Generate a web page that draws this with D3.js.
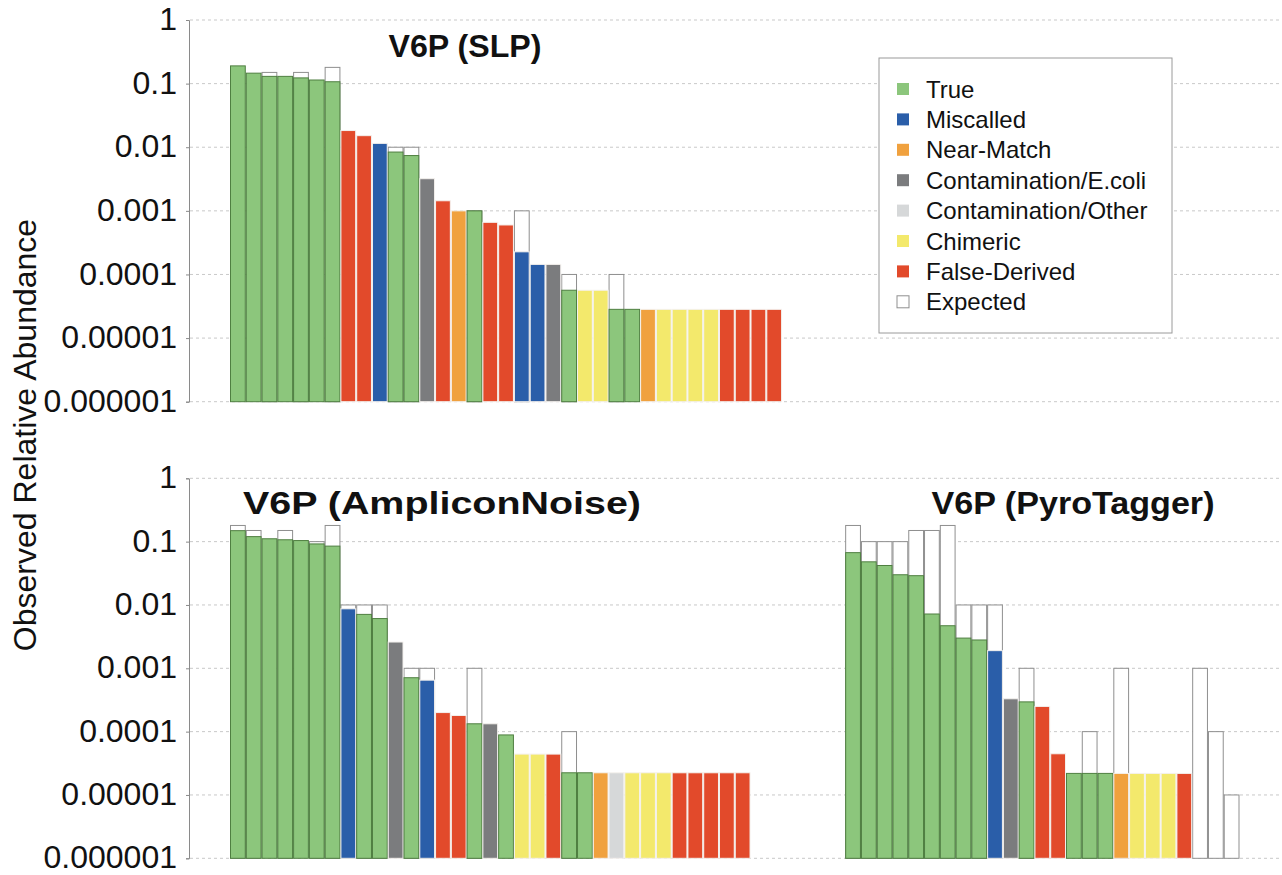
<!DOCTYPE html>
<html lang="en">
<head>
<meta charset="UTF-8">
<title>V6P relative abundance</title>
<style>
  body { margin: 0; background: #fff; }
  svg text { font-family: "Liberation Sans", Arial, Helvetica, sans-serif; }
</style>
</head>
<body>
<script src="https://d3js.org/d3.v7.min.js"></script>
<div id="chart"></div>
<script>
// legend categories
var catKeys   = ["T", "M", "N", "E", "O", "C", "F"];
var catNames  = ["True", "Miscalled", "Near-Match", "Contamination/E.coli", "Contamination/Other", "Chimeric", "False-Derived"];
var catColors = ["#8cc67c", "#2a5ea9", "#f0a13e", "#7b7c7e", "#d6d8d9", "#f3e96c", "#e24a2b"];
var yTicks = [1, 0.1, 0.01, 0.001, 0.0001, 0.00001, 0.000001];
var yTickLabels = ["1", "0.1", "0.01", "0.001", "0.0001", "0.00001", "0.000001"];

// V6P (SLP)
var slpCats = ["T","T","T","T","T","T","T","F","F","M","T","T","E","F","N","T","F","F","M","M","E","T","C","C","T","T","N","C","C","C","C","F","F","F","F"];
var slpObs  = [0.19,0.146,0.13,0.13,0.123,0.114,0.107,0.0183,0.0152,0.0115,0.0084,0.0074,0.0032,0.00144,0.001,0.001,0.00066,0.0006,0.000227,0.000144,0.000144,0.0000565,0.0000565,0.0000565,0.0000283,0.0000283,0.0000283,0.0000283,0.0000283,0.0000283,0.0000283,0.0000283,0.0000283,0.0000283,0.0000283];
var slpExp  = [null,null,0.15,null,0.15,null,0.18,null,null,null,0.01,0.01,null,null,null,0.001,null,null,0.001,null,null,0.0001,null,null,0.0001,null,null,null,null,null,null,null,null,null,null];

// V6P (AmpliconNoise)
var anCats = ["T","T","T","T","T","T","T","M","T","T","E","T","M","F","F","T","E","T","C","C","F","T","T","N","O","C","C","C","F","F","F","F","F"];
var anObs  = [0.149,0.12,0.111,0.107,0.104,0.092,0.085,0.0087,0.0071,0.0061,0.0026,0.00071,0.00065,0.0002,0.00018,0.000133,0.000133,0.0000887,0.0000442,0.0000442,0.0000442,0.0000224,0.0000224,0.0000224,0.0000224,0.0000224,0.0000224,0.0000224,0.0000224,0.0000224,0.0000224,0.0000224,0.0000224];
var anExp  = [0.18,0.15,null,0.15,null,0.1,0.18,0.01,0.01,0.01,null,0.001,0.001,null,null,0.001,null,null,null,null,null,0.0001,null,null,null,null,null,null,null,null,null,null,null];

// V6P (PyroTagger), X = expected only
var ptCats = ["T","T","T","T","T","T","T","T","T","M","E","T","F","F","T","T","T","N","C","C","C","F","X","X","X"];
var ptObs  = [0.067,0.048,0.042,0.030,0.029,0.0072,0.0047,0.003,0.0028,0.0019,0.00033,0.000295,0.00025,0.0000447,0.0000219,0.0000219,0.0000219,0.0000219,0.0000219,0.0000219,0.0000219,0.0000219,null,null,null];
var ptExp  = [0.18,0.1,0.1,0.1,0.15,0.15,0.18,0.01,0.01,0.01,null,0.001,null,null,null,0.0001,null,0.001,null,null,null,null,0.001,0.0001,0.00001];

var W = 1282, H = 875;
var color = d3.scaleOrdinal().domain(catKeys).range(catColors);

var svg = d3.select("#chart").append("svg")
    .attr("width", W)
    .attr("height", H);

// shared slot scale for both rows
var x = d3.scaleBand()
    .domain(d3.range(64))
    .range([230, 1239.5])
    .padding(0);

var axisX = 189;

function panel(top, bottom) {
  var y = d3.scaleLog().domain([0.000001, 1]).range([bottom, top]);

  // dotted grid
  svg.append("g").selectAll("line")
    .data(yTicks).enter().append("line")
      .attr("x1", axisX + 1).attr("x2", W)
      .attr("y1", function(d) { return y(d); })
      .attr("y2", function(d) { return y(d); })
      .attr("stroke", "#c9c9c9")
      .attr("stroke-dasharray", "3,3");

  var ax = svg.append("g")
    .attr("transform", "translate(" + axisX + ",0)")
    .call(d3.axisLeft(y).tickValues(yTicks)
      .tickFormat(function(d, i) { return yTickLabels[i]; })
      .tickSize(3).tickPadding(9));
  ax.select(".domain").attr("stroke", "#8a8a8a");
  ax.selectAll(".tick line").attr("stroke", "#8a8a8a");
  ax.selectAll("text")
    .attr("font-size", 32)
    .attr("fill", "#111")
    .attr("dy", "0.3em");
  return y;
}

function bars(y, offset, cats, obs, exp) {
  var rows = cats.map(function(c, i) {
    return {slot: offset + i, cat: c, obs: obs[i], exp: exp[i]};
  });
  var base = y(0.000001);

  // expected outlines (behind)
  svg.append("g").selectAll("rect")
    .data(rows.filter(function(d) { return d.exp != null; }))
    .enter().append("rect")
      .attr("x", function(d) { return x(d.slot) + 0.5; })
      .attr("width", x.bandwidth() - 1)
      .attr("y", function(d) { return y(d.exp); })
      .attr("height", function(d) { return base - y(d.exp); })
      .attr("fill", "#fff")
      .attr("stroke", "#8f8f8f")
      .attr("stroke-width", 1);

  // observed bars
  svg.append("g").selectAll("rect")
    .data(rows.filter(function(d) { return d.obs != null; }))
    .enter().append("rect")
      .attr("x", function(d) { return x(d.slot) + 0.5; })
      .attr("width", x.bandwidth() - 1)
      .attr("y", function(d) { return y(d.obs); })
      .attr("height", function(d) { return base - y(d.obs); })
      .attr("fill", function(d) { return color(d.cat); })
      .attr("stroke", function(d) { return d.cat == "T" ? "#4f7f41" : "#f4f1ee"; })
      .attr("stroke-width", 1);
}

var yTop = panel(20, 401.7);
var yBot = panel(478.3, 858.3);

bars(yTop, 0, slpCats, slpObs, slpExp);
bars(yBot, 0, anCats, anObs, anExp);
bars(yBot, 39, ptCats, ptObs, ptExp);

// panel titles (widths)
var titles = [
  {t: "V6P (SLP)", x: 465, y: 57, w: 153},
  {t: "V6P (AmpliconNoise)", x: 442, y: 514, w: 398},
  {t: "V6P (PyroTagger)", x: 1073, y: 514, w: 283}
];
svg.selectAll(".title").data(titles).enter().append("text")
  .attr("class", "title")
  .attr("x", function(d) { return d.x; })
  .attr("y", function(d) { return d.y; })
  .attr("text-anchor", "middle")
  .attr("font-size", 31)
  .attr("font-weight", "bold")
  .attr("fill", "#111")
  .attr("textLength", function(d) { return d.w; })
  .attr("lengthAdjust", "spacingAndGlyphs")
  .text(function(d) { return d.t; });

// y title
svg.append("text")
  .attr("transform", "translate(36,435) rotate(-90)")
  .attr("text-anchor", "middle")
  .attr("font-size", 32)
  .attr("fill", "#111")
  .text("Observed Relative Abundance");

// legend
var legend = svg.append("g");
legend.append("rect")
  .attr("x", 879).attr("y", 58)
  .attr("width", 293).attr("height", 275)
  .attr("fill", "#fff")
  .attr("stroke", "#9a9a9a");

var legItems = catNames.map(function(n, i) { return {name: n, fill: catColors[i], stroke: "none"}; });
legItems.push({name: "Expected", fill: "#fff", stroke: "#8f8f8f"});

var li = legend.selectAll(".li").data(legItems).enter().append("g")
  .attr("transform", function(d, i) { return "translate(0," + (89 + i * 30.4) + ")"; });
li.append("rect")
  .attr("x", 897).attr("y", -6)
  .attr("width", 12).attr("height", 12)
  .attr("fill", function(d) { return d.fill; })
  .attr("stroke", function(d) { return d.stroke; });
li.append("text")
  .attr("x", 926).attr("dy", "0.36em")
  .attr("font-size", 24)
  .attr("fill", "#111")
  .text(function(d) { return d.name; });
</script>
</body>
</html>
